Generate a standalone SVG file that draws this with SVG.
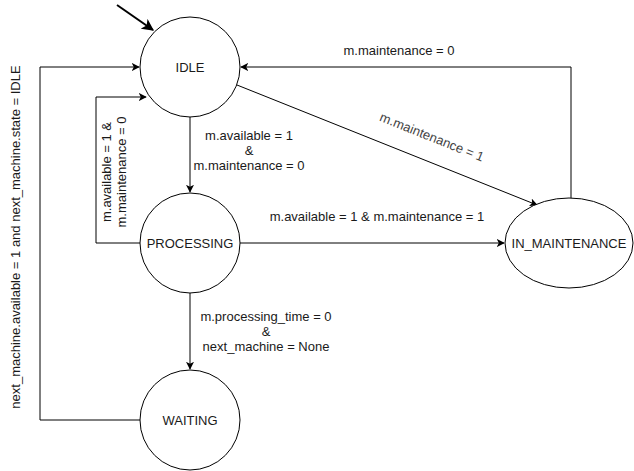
<svg xmlns="http://www.w3.org/2000/svg" width="634" height="471" viewBox="0 0 634 471">
<defs>
<marker id="arr" viewBox="0 0 10 10" refX="9" refY="5" markerWidth="8" markerHeight="8" markerUnits="userSpaceOnUse" orient="auto">
<path d="M0,0 L10,5 L0,10 L2.5,5 z" fill="#000"/>
</marker>
<marker id="arr2" viewBox="0 0 10 10" refX="9" refY="5" markerWidth="6" markerHeight="6" orient="auto">
<path d="M0,0 L10,5 L0,10 L2.5,5 z" fill="#000"/>
</marker>
<style>
.node{fill:#fff;stroke:#000;stroke-width:1}
.nl{font-family:"Liberation Sans",Arial,sans-serif;font-size:13px;fill:#1a1a1a;text-anchor:middle;dominant-baseline:central}
.el{font-family:"Liberation Sans",Arial,sans-serif;font-size:13px;fill:#1a1a1a;text-anchor:middle;dominant-baseline:central}
.edge{fill:none;stroke:#000;stroke-width:1;marker-end:url(#arr)}
</style>
</defs>
<rect width="634" height="471" fill="#fff"/>
<g id="connectors">
<line x1="117" y1="5" x2="153" y2="30" stroke="#000" stroke-width="2" marker-end="url(#arr2)"/>
<path class="edge" d="M140,420 H40 V67 H139"/>
<path class="edge" d="M140,243 H96 V97 H146"/>
<path class="edge" d="M190,117 V192"/>
<path class="edge" d="M237,85 L537,205"/>
<path class="edge" d="M571,199 V67 H241"/>
<path class="edge" d="M240,243 H504"/>
<path class="edge" d="M190,293 V369"/>
</g>
<g id="labels">
<text class="el" transform="translate(15,237) rotate(-90)">next_machine.available = 1 and next_machine.state = IDLE</text>
<text class="el" transform="translate(106,172) rotate(-90)">m.available = 1 &amp;</text>
<text class="el" transform="translate(121,172) rotate(-90)">m.maintenance = 0</text>
<text class="el" x="249" y="135">m.available = 1</text>
<text class="el" x="249" y="150">&amp;</text>
<text class="el" x="249" y="165">m.maintenance = 0</text>
<text class="el" x="399" y="50">m.maintenance = 0</text>
<text class="el" transform="translate(432,137) rotate(21.8)" style="fill:#444">m.maintenance = 1</text>
<text class="el" x="377" y="216">m.available = 1 &amp; m.maintenance = 1</text>
<text class="el" x="266" y="316">m.processing_time = 0</text>
<text class="el" x="266" y="331">&amp;</text>
<text class="el" x="266" y="346">next_machine = None</text>
</g>
<g id="idle"><circle class="node" cx="190" cy="67" r="50"/><text class="nl" x="190" y="67">IDLE</text></g>
<g id="processing"><circle class="node" cx="190" cy="243" r="50"/><text class="nl" x="190" y="243">PROCESSING</text></g>
<g id="waiting"><circle class="node" cx="190" cy="420" r="50"/><text class="nl" x="190" y="420">WAITING</text></g>
<g id="in_maintenance"><ellipse class="node" cx="569" cy="243" rx="64" ry="45"/><text class="nl" x="569" y="243">IN_MAINTENANCE</text></g>
</svg>
